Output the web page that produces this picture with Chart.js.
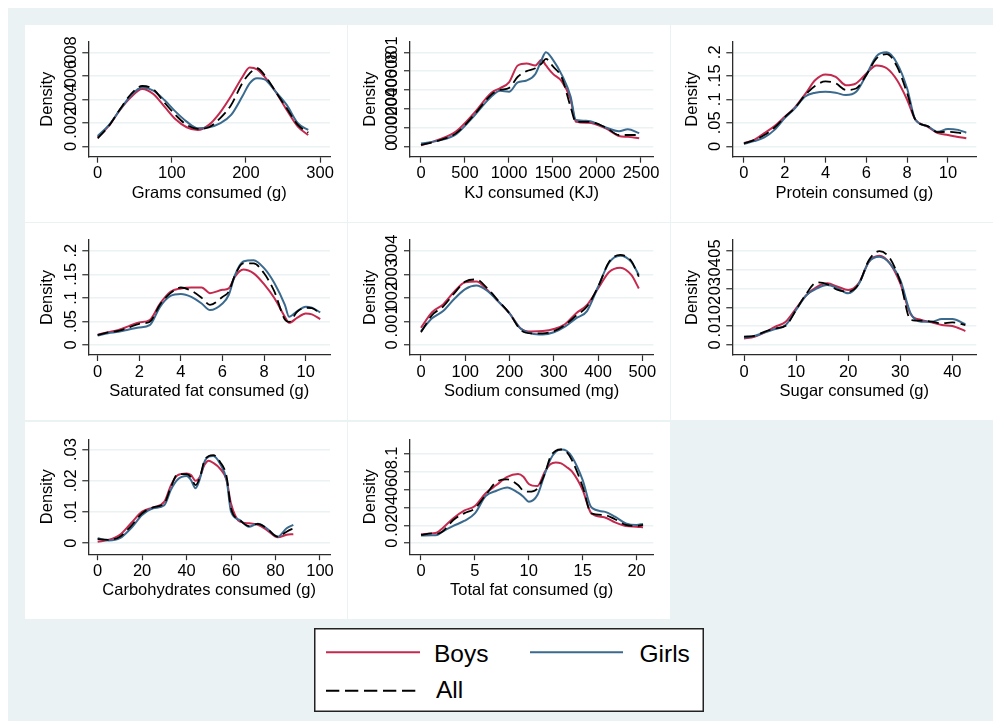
<!DOCTYPE html>
<html>
<head>
<meta charset="utf-8">
<script src="https://cdn.jsdelivr.net/npm/chart.js@4.4.1/dist/chart.umd.min.js"></script>
<style>
  html, body { margin: 0; padding: 0; background: #fff; }
  body { width: 997px; height: 728px; position: relative; overflow: hidden; font-family: "Liberation Sans", Arial, sans-serif; }
  #region { position: absolute; left: 8px; top: 8px; width: 985px; height: 713px; background: #eaf2f3; }
  .panel { position: absolute; width: 322px; height: 197px; background: #fff; }
  .panel canvas { position: absolute; left: 0; top: 0; }
  #legend { position: absolute; left: 314px; top: 628px; width: 390px; height: 84px; }
  #legend svg { position: absolute; left: 0; top: 0; }
  #legend span { position: absolute; font-size: 24.5px; line-height: 28px; color: #000; white-space: nowrap; }
</style>
</head>
<body>
<div id="region"></div>
<div id="legend">
  <svg width="390" height="84">
    <rect x="0.75" y="0.75" width="388.5" height="82.5" fill="#fff" stroke="#222" stroke-width="1.5"/>
    <line x1="12" y1="24.3" x2="106" y2="24.3" stroke="#c4294e" stroke-width="2"/>
    <line x1="216" y1="24.3" x2="309" y2="24.3" stroke="#3a6a8e" stroke-width="2"/>
    <line x1="12" y1="62.7" x2="106" y2="62.7" stroke="#000" stroke-width="2" stroke-dasharray="13.3 5.7"/>
  </svg>
  <span style="left:120px; top:11.6px;">Boys</span>
  <span style="left:325.5px; top:11.6px;">Girls</span>
  <span style="left:122px; top:47.8px;">All</span>
</div>
<script>
// grams
const gramsX = [0, 15, 30, 45, 60, 75, 90, 105, 120, 135, 150, 165, 180, 195, 205, 215, 225, 240, 255, 270, 284];
const gramsBoys = [0.00077, 0.00173, 0.0031, 0.0042, 0.00488, 0.00445, 0.00338, 0.0023, 0.00162, 0.00139, 0.00182, 0.00287, 0.00428, 0.00587, 0.0067, 0.00655, 0.00593, 0.00465, 0.00309, 0.00167, 0.00096];
const gramsGirls = [0.00088, 0.0018, 0.0031, 0.00435, 0.005, 0.00474, 0.00394, 0.00295, 0.0021, 0.00153, 0.00162, 0.00196, 0.00267, 0.00423, 0.00536, 0.00579, 0.0057, 0.00465, 0.00352, 0.00196, 0.00139];
const gramsAll = [0.00068, 0.00173, 0.00315, 0.00445, 0.00513, 0.00485, 0.00372, 0.00267, 0.00182, 0.00148, 0.00162, 0.00238, 0.00352, 0.00536, 0.00621, 0.00664, 0.00607, 0.00465, 0.00323, 0.00182, 0.00116];
const gramsXTicks = [0, 100, 200, 300];
const gramsYTicks = [0, 0.002, 0.004, 0.006, 0.008];

// kj
const kjX = [0, 200, 400, 600, 800, 900, 1000, 1100, 1200, 1300, 1370, 1420, 1500, 1600, 1700, 1760, 1900, 2100, 2250, 2350, 2480];
const kjBoys = [0.00001, 0.00007, 0.00016, 0.00035, 0.00057, 0.00062, 0.00068, 0.00086, 0.00088, 0.00086, 0.00092, 0.00086, 0.00077, 0.00069, 0.0005, 0.00026, 0.00025, 0.00019, 0.00011, 0.0001, 0.000085];
const kjGirls = [0.00003, 0.00006, 0.00013, 0.00032, 0.00053, 0.00059, 0.00058, 0.00068, 0.0007, 0.00077, 0.00092, 0.001, 0.00092, 0.00076, 0.00053, 0.00028, 0.00027, 0.0002, 0.00016, 0.00018, 0.00014];
const kjAll = [0.000015, 0.00006, 0.00014, 0.00033, 0.00055, 0.0006, 0.00062, 0.00074, 0.0008, 0.00083, 0.00088, 0.00093, 0.00085, 0.00073, 0.00042, 0.00026, 0.00026, 0.0002, 0.00012, 0.00012, 0.00012];
const kjXTicks = [0, 500, 1000, 1500, 2000, 2500];
const kjYTicks = [0, 0.0002, 0.0004, 0.0006, 0.0008, 0.001];

// protein
const proteinX = [0, 0.5, 1, 1.5, 2, 2.5, 3, 3.5, 4, 4.5, 5, 5.5, 6, 6.5, 7, 7.5, 8, 8.4, 9, 9.5, 10, 10.5, 10.9];
const proteinBoys = [0.007, 0.0135, 0.028, 0.043, 0.063, 0.083, 0.111, 0.141, 0.153, 0.148, 0.13, 0.134, 0.155, 0.172, 0.166, 0.141, 0.099, 0.057, 0.042, 0.028, 0.024, 0.02, 0.017];
const proteinGirls = [0.005, 0.011, 0.019, 0.035, 0.06, 0.081, 0.106, 0.114, 0.116, 0.114, 0.109, 0.116, 0.152, 0.192, 0.2, 0.177, 0.123, 0.057, 0.043, 0.031, 0.037, 0.035, 0.029];
const proteinAll = [0.006, 0.013, 0.024, 0.04, 0.062, 0.082, 0.109, 0.129, 0.138, 0.134, 0.12, 0.123, 0.152, 0.187, 0.196, 0.17, 0.113, 0.057, 0.043, 0.03, 0.031, 0.029, 0.026];
const proteinXTicks = [0, 2, 4, 6, 8, 10];
const proteinYTicks = [0, 0.05, 0.1, 0.15, 0.2];

// saturated fat
const satfatX = [0, 0.5, 1, 1.5, 2, 2.5, 3, 3.5, 4, 4.5, 5, 5.4, 6, 6.3, 6.6, 7, 7.5, 8, 8.5, 9, 9.2, 9.6, 10, 10.3, 10.7];
const satfatBoys = [0.022, 0.027, 0.032, 0.04, 0.048, 0.053, 0.088, 0.113, 0.12, 0.122, 0.122, 0.11, 0.117, 0.12, 0.145, 0.16, 0.152, 0.129, 0.099, 0.06, 0.047, 0.058, 0.067, 0.065, 0.055];
const satfatGirls = [0.02, 0.025, 0.028, 0.033, 0.037, 0.042, 0.081, 0.104, 0.108, 0.102, 0.088, 0.074, 0.088, 0.106, 0.148, 0.177, 0.18, 0.163, 0.131, 0.085, 0.06, 0.072, 0.081, 0.079, 0.069];
const satfatAll = [0.021, 0.027, 0.03, 0.037, 0.045, 0.049, 0.086, 0.11, 0.122, 0.115, 0.1, 0.085, 0.102, 0.113, 0.148, 0.173, 0.173, 0.152, 0.113, 0.054, 0.049, 0.071, 0.079, 0.078, 0.067];
const satfatXTicks = [0, 2, 4, 6, 8, 10];
const satfatYTicks = [0, 0.05, 0.1, 0.15, 0.2];

// sodium
const sodiumX = [0, 25, 50, 75, 100, 125, 150, 175, 200, 225, 250, 275, 300, 325, 350, 375, 400, 425, 450, 475, 492];
const sodiumBoys = [0.00073, 0.00139, 0.00172, 0.00226, 0.00266, 0.00269, 0.00233, 0.00184, 0.00134, 0.0007, 0.00057, 0.00059, 0.00068, 0.00088, 0.00134, 0.0017, 0.0024, 0.0031, 0.00328, 0.00297, 0.0024];
const sodiumGirls = [0.00059, 0.00113, 0.00144, 0.00195, 0.00237, 0.00252, 0.00229, 0.00184, 0.00134, 0.0007, 0.00049, 0.00045, 0.00054, 0.00078, 0.00113, 0.00144, 0.00247, 0.0035, 0.00379, 0.00353, 0.00297];
const sodiumAll = [0.00054, 0.00127, 0.00163, 0.00219, 0.00269, 0.00278, 0.0024, 0.00187, 0.00134, 0.00064, 0.00049, 0.00049, 0.00059, 0.00085, 0.00124, 0.00163, 0.00247, 0.00353, 0.00382, 0.00356, 0.0029];
const sodiumXTicks = [0, 100, 200, 300, 400, 500];
const sodiumYTicks = [0, 0.001, 0.002, 0.003, 0.004];

// sugar
const sugarX = [0, 2, 4, 6, 8, 10, 12, 14, 16, 18, 20, 22, 24, 26, 28, 30, 32, 34, 36, 38, 40, 42.5];
const sugarBoys = [0.0035, 0.0044, 0.0067, 0.0097, 0.0124, 0.0194, 0.0265, 0.0309, 0.0327, 0.0309, 0.0292, 0.0327, 0.0442, 0.0473, 0.0433, 0.0327, 0.0163, 0.0133, 0.012, 0.0106, 0.0101, 0.0074];
const sugarGirls = [0.0039, 0.0048, 0.0067, 0.0085, 0.0106, 0.0186, 0.0265, 0.03, 0.0318, 0.03, 0.0274, 0.0322, 0.0442, 0.0468, 0.0433, 0.0345, 0.0168, 0.0124, 0.0124, 0.0138, 0.0138, 0.011];
const sugarAll = [0.0044, 0.0049, 0.0071, 0.0088, 0.0102, 0.0186, 0.0274, 0.0332, 0.0322, 0.0292, 0.0283, 0.0322, 0.0451, 0.0498, 0.046, 0.0336, 0.0133, 0.0129, 0.0124, 0.0115, 0.012, 0.0106];
const sugarXTicks = [0, 10, 20, 30, 40];
const sugarYTicks = [0, 0.01, 0.02, 0.03, 0.04, 0.05];

// carbohydrates
const carbsX = [0, 5, 10, 15, 20, 25, 30, 33, 36, 40, 42, 44, 46, 48, 50, 52, 55, 58, 60, 64, 68, 72, 76, 81, 85, 88];
const carbsBoys = [0.0005, 0.0011, 0.0027, 0.0064, 0.0101, 0.0115, 0.0133, 0.0186, 0.0218, 0.0223, 0.0218, 0.02, 0.0213, 0.025, 0.0264, 0.0257, 0.0239, 0.0202, 0.0126, 0.0069, 0.0064, 0.0059, 0.0043, 0.0019, 0.0027, 0.0029];
const carbsGirls = [0.0016, 0.0009, 0.0016, 0.0048, 0.009, 0.0112, 0.0122, 0.0172, 0.0204, 0.0215, 0.0202, 0.0176, 0.0207, 0.026, 0.0277, 0.0279, 0.0255, 0.0202, 0.0101, 0.0074, 0.0053, 0.0062, 0.0048, 0.0021, 0.0048, 0.0059];
const carbsAll = [0.0013, 0.0011, 0.0021, 0.0055, 0.0096, 0.0115, 0.0128, 0.0181, 0.0221, 0.0221, 0.0211, 0.0186, 0.0211, 0.0264, 0.0279, 0.0282, 0.0261, 0.0213, 0.0112, 0.0074, 0.0055, 0.0062, 0.0048, 0.0021, 0.0037, 0.0048];
const carbsXTicks = [0, 20, 40, 60, 80, 100];
const carbsYTicks = [0, 0.01, 0.02, 0.03];

// total fat
const fatX = [0, 1, 1.5, 2, 3, 4, 5, 6, 7, 8, 9, 9.5, 10, 10.8, 11.5, 12, 12.5, 13, 13.5, 14, 15, 15.8, 17, 18, 19, 20, 20.6];
const fatBoys = [0.01, 0.011, 0.012, 0.0167, 0.0278, 0.0363, 0.0415, 0.0556, 0.0648, 0.074, 0.077, 0.074, 0.066, 0.0637, 0.08, 0.088, 0.09, 0.0889, 0.085, 0.08, 0.0593, 0.0333, 0.0289, 0.0233, 0.0193, 0.0185, 0.0178];
const fatGirls = [0.0085, 0.0089, 0.0093, 0.013, 0.0193, 0.0248, 0.0333, 0.0526, 0.0585, 0.0622, 0.0563, 0.0519, 0.0463, 0.0537, 0.0778, 0.0933, 0.1019, 0.1044, 0.103, 0.0963, 0.0704, 0.04, 0.0352, 0.0296, 0.0222, 0.0204, 0.0215];
const fatAll = [0.0093, 0.011, 0.0104, 0.013, 0.0259, 0.0333, 0.0389, 0.0537, 0.0685, 0.0711, 0.0648, 0.0585, 0.0574, 0.0611, 0.0778, 0.0963, 0.103, 0.1044, 0.1019, 0.0926, 0.063, 0.0333, 0.0315, 0.0267, 0.0204, 0.0193, 0.0204];
const fatXTicks = [0, 5, 10, 15, 20];
const fatYTicks = [0, 0.02, 0.04, 0.06, 0.08, 0.1];

const boysColor = '#c4294e';
const girlsColor = '#3a6a8e';
const axisColor = '#2b2b2b';
const gridColor = '#eaf2f3';
const family = '"Liberation Sans", Arial, sans-serif';
const fontSize = 16.5;

// panel grid (page pixels) and plot area inside each panel
const panelLeft = [25, 348, 671];
const panelTop = [25, 223, 422];
const plotLeft = [63.3, 62, 61.3];
const plotRight = [305, 305.3, 305.3];
const plotTop = [16.7, 17, 17.2];
const titleBox = [12.9, 12.6, 11.6];
const PW = 322, PH = 197, plotH = 115, xAxisH = 46.4;

const panels = [
  { title: 'Grams consumed (g)', col: 0, row: 0, x: gramsX, boys: gramsBoys, girls: gramsGirls, all: gramsAll, xTicks: gramsXTicks, yTicks: gramsYTicks, xr: [-12.7, 313.4], yr: [-0.000885, 0.0089] },
  { title: 'KJ consumed (KJ)', col: 1, row: 0, x: kjX, boys: kjBoys, girls: kjGirls, all: kjAll, xTicks: kjXTicks, yTicks: kjYTicks, xr: [-125, 2640], yr: [-0.000111, 0.001113] },
  { title: 'Protein consumed (g)', col: 2, row: 0, x: proteinX, boys: proteinBoys, girls: proteinGirls, all: proteinAll, xTicks: proteinXTicks, yTicks: proteinYTicks, xr: [-0.57, 11.39], yr: [-0.0221, 0.2226] },
  { title: 'Saturated fat consumed (g)', col: 0, row: 1, x: satfatX, boys: satfatBoys, girls: satfatGirls, all: satfatAll, xTicks: satfatXTicks, yTicks: satfatYTicks, xr: [-0.45, 11.17], yr: [-0.0212, 0.2227] },
  { title: 'Sodium consumed (mg)', col: 1, row: 1, x: sodiumX, boys: sodiumBoys, girls: sodiumGirls, all: sodiumAll, xTicks: sodiumXTicks, yTicks: sodiumYTicks, xr: [-24.8, 524.7], yr: [-0.000424, 0.004454] },
  { title: 'Sugar consumed (g)', col: 2, row: 1, x: sugarX, boys: sugarBoys, girls: sugarGirls, all: sugarAll, xTicks: sugarXTicks, yTicks: sugarYTicks, xr: [-2.25, 44.6], yr: [-0.0053, 0.0557] },
  { title: 'Carbohydrates consumed (g)', col: 0, row: 2, x: carbsX, boys: carbsBoys, girls: carbsGirls, all: carbsAll, xTicks: carbsXTicks, yTicks: carbsYTicks, xr: [-4.2, 104.5], yr: [-0.00351, 0.0333] },
  { title: 'Total fat consumed (g)', col: 1, row: 2, x: fatX, boys: fatBoys, girls: fatGirls, all: fatAll, xTicks: fatXTicks, yTicks: fatYTicks, xr: [-1.02, 21.55], yr: [-0.0122, 0.1159] }
];

const fmtY = v => v === 0 ? '0' : String(v).replace(/^0\./, '.');
const pts = (xs, ys) => xs.map((x, i) => ({ x: x, y: ys[i] }));

const measure = document.createElement('canvas').getContext('2d');
const widest = labels => {
  measure.font = 'normal ' + fontSize + 'px ' + family;
  return Math.max(...labels.map(l => measure.measureText(l).width));
};

const font = { family: family, size: fontSize };

panels.forEach(p => {
  const div = document.createElement('div');
  div.className = 'panel';
  div.style.left = panelLeft[p.col] + 'px';
  div.style.top = panelTop[p.row] + 'px';
  const cv = document.createElement('canvas');
  cv.width = PW; cv.height = PH;
  div.appendChild(cv);
  document.body.appendChild(div);

  const L = titleBox[p.col];
  const yW = plotLeft[p.col] - L;
  const T = plotTop[p.row];
  const B = PH - T - plotH - xAxisH;
  const R = PW - plotRight[p.col];
  const yPad = 2.8 - widest(p.yTicks.map(fmtY)) / 2;

  new Chart(cv, {
    type: 'line',
    data: {
      datasets: [
        { label: 'Boys', data: pts(p.x, p.boys), borderColor: boysColor, borderWidth: 2, order: 2 },
        { label: 'Girls', data: pts(p.x, p.girls), borderColor: girlsColor, borderWidth: 2, order: 1 },
        { label: 'All', data: pts(p.x, p.all), borderColor: '#000', borderWidth: 1.8, borderDash: [11, 5.5], order: 0 }
      ]
    },
    options: {
      responsive: false,
      animation: false,
      devicePixelRatio: 1,
      layout: { padding: { left: L, right: R, top: T, bottom: B } },
      elements: {
        point: { radius: 0 },
        line: { cubicInterpolationMode: 'monotone', fill: false }
      },
      plugins: { legend: { display: false }, tooltip: { enabled: false } },
      scales: {
        x: {
          type: 'linear',
          min: p.xr[0], max: p.xr[1],
          afterBuildTicks: s => { s.ticks = p.xTicks.map(v => ({ value: v })); },
          afterFit: s => { s.height = xAxisH; },
          grid: { drawOnChartArea: false, drawTicks: true, tickLength: 6, tickColor: axisColor, tickWidth: 1.2 },
          border: { display: true, color: axisColor, width: 1.3 },
          ticks: { autoSkip: false, maxRotation: 0, padding: 1.2, color: '#000', font: font, callback: v => String(v) },
          title: { display: true, text: p.title, color: '#000', font: font, padding: 0 }
        },
        y: {
          type: 'linear',
          min: p.yr[0], max: p.yr[1],
          afterBuildTicks: s => { s.ticks = p.yTicks.map(v => ({ value: v })); },
          afterFit: s => { s.width = yW; },
          grid: { color: gridColor, lineWidth: 1.5, drawTicks: true, tickLength: 6, tickColor: axisColor, tickWidth: 1.2 },
          border: { display: true, color: axisColor, width: 1.3 },
          ticks: { autoSkip: false, minRotation: 90, maxRotation: 90, crossAlign: 'center', align: 'end', padding: yPad, color: '#000', font: font, callback: fmtY },
          title: { display: true, text: 'Density', color: '#000', font: font, padding: 0 }
        }
      }
    }
  });
});
</script>
</body>
</html>
